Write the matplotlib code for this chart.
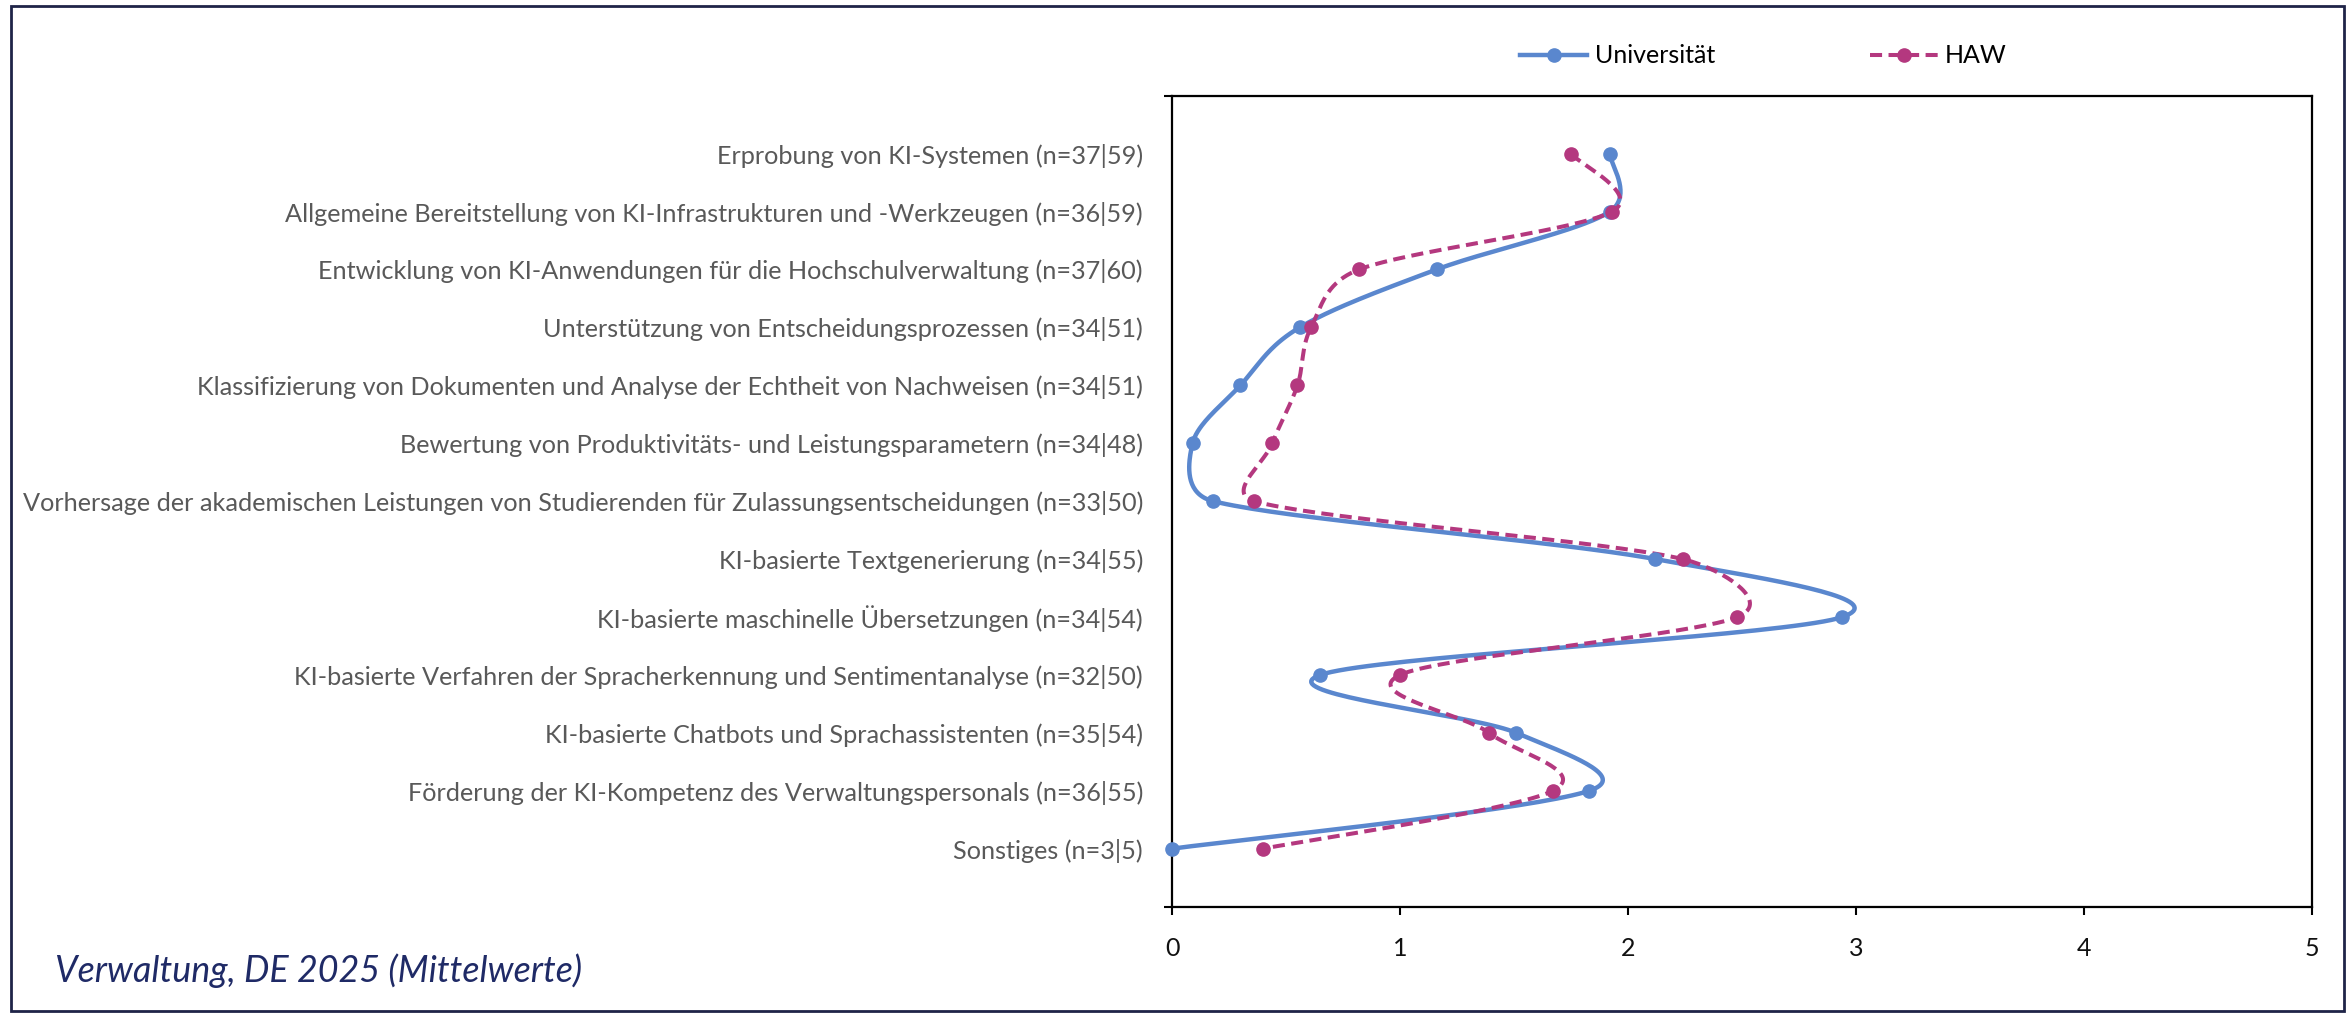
import numpy as np
import matplotlib
matplotlib.use("Agg")
import matplotlib.pyplot as plt
from matplotlib.lines import Line2D
from matplotlib.patches import Rectangle

plt.rcParams['font.family'] = ['Lato', 'DejaVu Sans']

categories = [
    "Erprobung von KI-Systemen (n=37|59)",
    "Allgemeine Bereitstellung von KI-Infrastrukturen und -Werkzeugen (n=36|59)",
    "Entwicklung von KI-Anwendungen für die Hochschulverwaltung (n=37|60)",
    "Unterstützung von Entscheidungsprozessen (n=34|51)",
    "Klassifizierung von Dokumenten und Analyse der Echtheit von Nachweisen (n=34|51)",
    "Bewertung von Produktivitäts- und Leistungsparametern (n=34|48)",
    "Vorhersage der akademischen Leistungen von Studierenden für Zulassungsentscheidungen (n=33|50)",
    "KI-basierte Textgenerierung (n=34|55)",
    "KI-basierte maschinelle Übersetzungen (n=34|54)",
    "KI-basierte Verfahren der Spracherkennung und Sentimentanalyse (n=32|50)",
    "KI-basierte Chatbots und Sprachassistenten (n=35|54)",
    "Förderung der KI-Kompetenz des Verwaltungspersonals (n=36|55)",
    "Sonstiges (n=3|5)",
]
uni = [1.92, 1.92, 1.16, 0.56, 0.30, 0.09, 0.18, 2.12, 2.94, 0.65, 1.51, 1.83, 0.00]
haw = [1.75, 1.93, 0.82, 0.61, 0.55, 0.44, 0.36, 2.24, 2.48, 1.00, 1.39, 1.67, 0.40]
series_names = ["Universität", "HAW"]

BLUE = "#5A87CE"
PINK = "#B4387F"
LABEL_GRAY = "#595959"
NAVY = "#1F2A66"

fig = plt.figure(figsize=(23.46, 10.14), dpi=100)
ax = fig.add_axes([0.4996, 0.1059, 0.4859, 0.7997])

XMAX, YMAX = 5, 14
ax.set_xlim(0, XMAX)
ax.set_ylim(YMAX, 0)

# pixel scale of the axes, used to smooth the lines in screen space
pos = ax.get_position()
sx = pos.width * fig.get_figwidth() * fig.dpi / XMAX
sy = pos.height * fig.get_figheight() * fig.dpi / YMAX


def smooth(xs, ys, steps=40):
    """Bezier smoothing through the points, control arms capped at half a segment."""
    p = np.column_stack([np.asarray(xs, float) * sx, np.asarray(ys, float) * sy])
    n = len(p)
    pts = [p[:1]]
    t = np.linspace(0, 1, steps)[1:, None]
    for i in range(n - 1):
        a, b = p[i], p[i + 1]
        seg = np.hypot(*(b - a))
        ta = p[min(i + 1, n - 1)] - p[max(i - 1, 0)]
        tb = p[min(i + 2, n - 1)] - p[i]
        la, lb = np.hypot(*ta), np.hypot(*tb)
        ka = min(1 / 6, seg / 2 / la) if la > 0 else 0
        kb = min(1 / 6, seg / 2 / lb) if lb > 0 else 0
        c1 = a + ta * ka
        c2 = b - tb * kb
        curve = ((1 - t) ** 3) * a + 3 * ((1 - t) ** 2) * t * c1 \
            + 3 * (1 - t) * t ** 2 * c2 + t ** 3 * b
        pts.append(curve)
    pts = np.vstack(pts)
    return pts[:, 0] / sx, pts[:, 1] / sy


ypos = np.arange(1, len(categories) + 1)

ux, uy = smooth(uni, ypos)
hx, hy = smooth(haw, ypos)

MS = 9.5
ax.plot(ux, uy, color=BLUE, lw=3.2, solid_capstyle='round', zorder=3, clip_on=False)
ax.plot(uni, ypos, 'o', color=BLUE, ms=MS, zorder=4, clip_on=False)

hl, = ax.plot(hx, hy, color=PINK, lw=2.9, zorder=3, clip_on=False)
hl.set_dashes((3.0, 1.6))
ax.plot(haw, ypos, 'o', color=PINK, ms=MS, zorder=4, clip_on=False)

# category labels on major ticks, tick marks and gridlines on minor ticks
ax.set_xticks(range(0, XMAX + 1))
ax.set_yticks(ypos)
ax.set_yticklabels(categories, color=LABEL_GRAY, fontsize=18.2)
ax.set_yticks(range(0, YMAX + 1, 2), minor=True)
ax.tick_params(axis='y', which='major', length=0, pad=21)
ax.tick_params(axis='y', which='minor', length=6, width=1.5, direction='out')
ax.tick_params(axis='x', length=6, width=1.5, direction='out', pad=16,
               labelsize=18, labelcolor='#111111')
for s in ax.spines.values():
    s.set_linewidth(1.6)
    s.set_color('black')
ax.yaxis.grid(True, which='minor', color='#D9D9D9', lw=1.6)
ax.yaxis.grid(False, which='major')
ax.xaxis.grid(False)

# legend
handles = [
    Line2D([], [], color=BLUE, lw=3.2, marker='o', ms=MS),
    Line2D([], [], color=PINK, lw=2.9, marker='o', ms=MS, dashes=(3.0, 1.6)),
]
fig.legend(handles, series_names, loc='center', bbox_to_anchor=(0.7517, 0.9448),
           ncol=2, frameon=False, handlelength=2.7, handletextpad=0.3,
           columnspacing=6.2, fontsize=18, borderpad=0)

fig.text(55 / 2346, 1 - 971 / 1014, "Verwaltung, DE 2025 (Mittelwerte)",
         style='italic', fontsize=25.8, color=NAVY, va='center', ha='left')

# outer frame
fig.patches.append(Rectangle((11 / 2346, 3 / 1014), 2333 / 2346, 1005 / 1014,
                             transform=fig.transFigure, fill=False,
                             edgecolor='#1F2448', lw=2))

fig.savefig("out.png", dpi=100)
